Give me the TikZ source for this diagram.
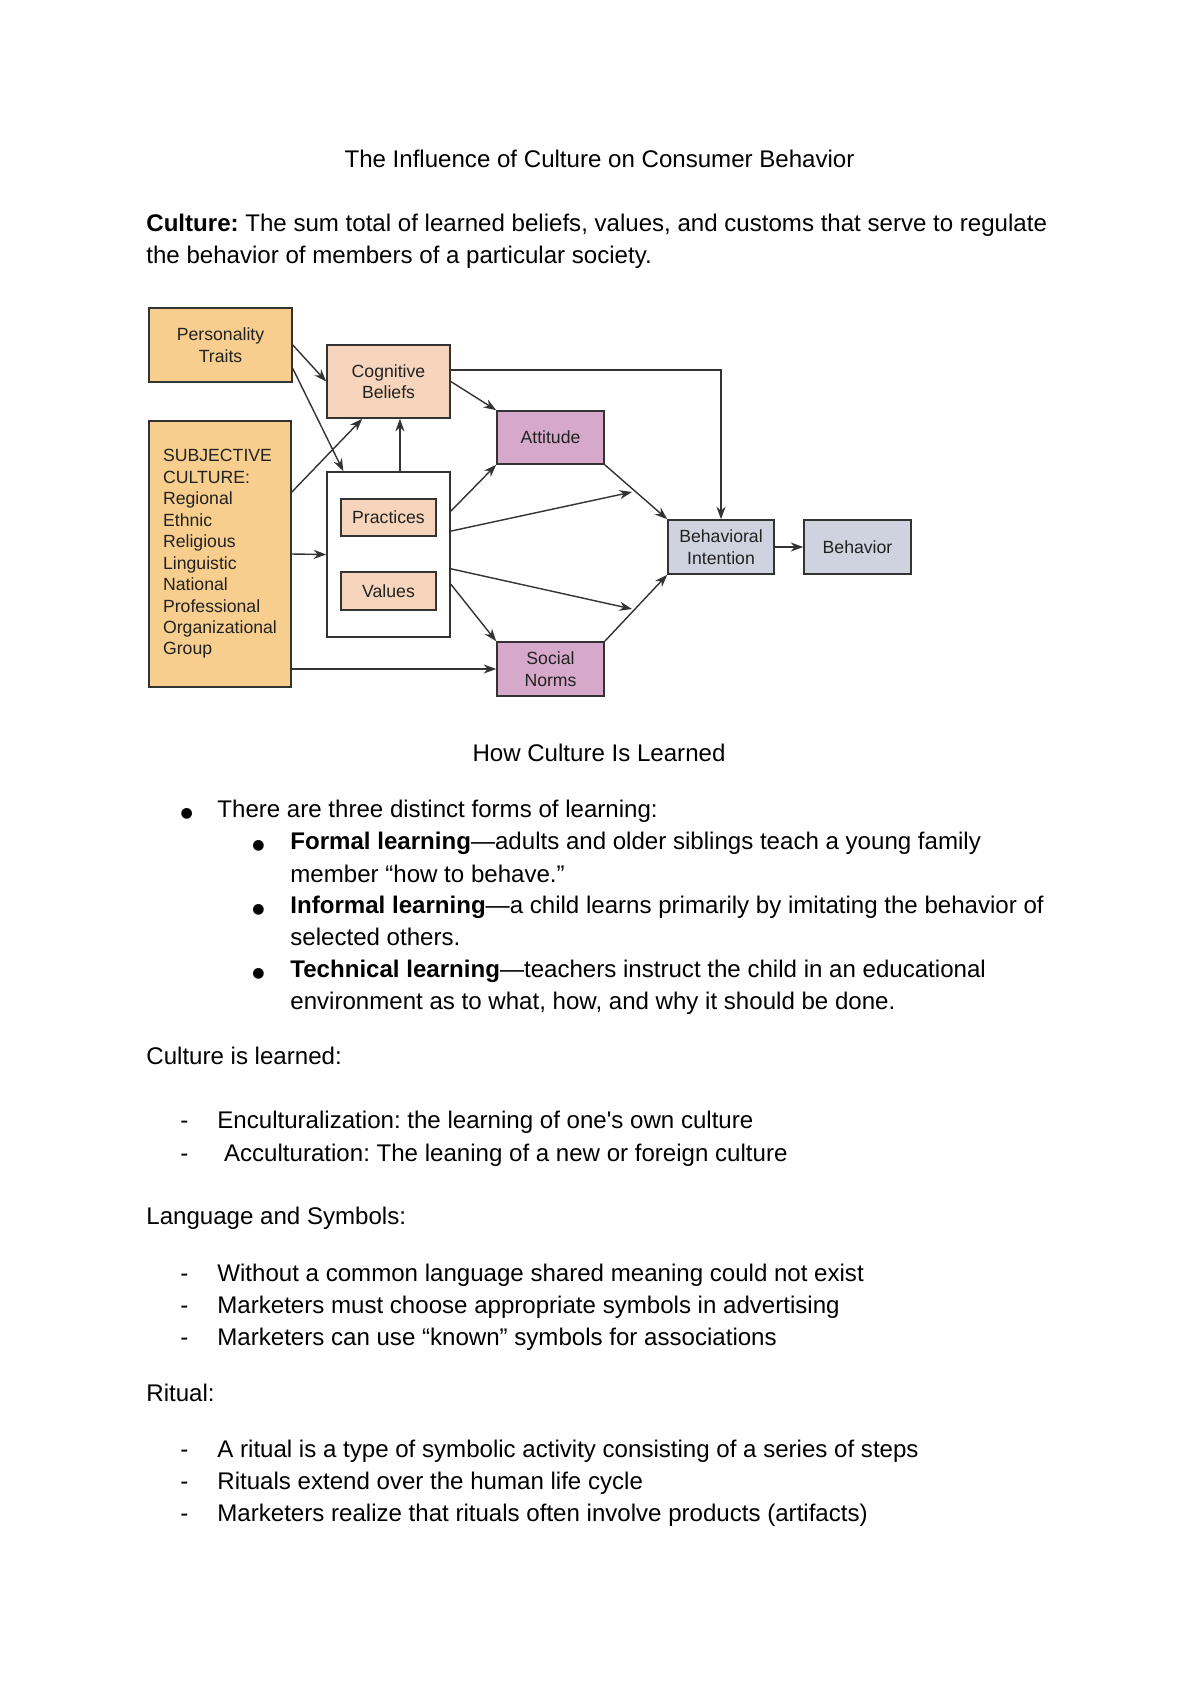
\documentclass[tikz,border=0pt]{standalone}
\usepackage{fontspec}
\setmainfont{Liberation Sans}
\newfontfamily\symfont{DejaVu Sans}
\usetikzlibrary{arrows.meta}
\frenchspacing

\definecolor{orangefill}{HTML}{F7CE8D}
\definecolor{peachfill}{HTML}{F7D5BC}
\definecolor{mauvefill}{HTML}{D6A9CB}
\definecolor{greyfill}{HTML}{CED3DF}
\definecolor{linegray}{HTML}{333333}
\definecolor{textgray}{HTML}{222222}

\newcommand{\txtfont}{\fontsize{12}{16.1}\selectfont}
\newcommand{\figfont}{\fontsize{8.8}{10.7}\selectfont}
\newcommand{\bul}[1]{\llap{{\symfont\fontsize{7}{7}\selectfont ●}\hspace{#1}}}
\newcommand{\itemdash}{\llap{-\hspace{5.1mm}}}

\tikzset{
  txt/.style={anchor=base west, inner sep=0pt, font=\txtfont, align=left},
  box/.style={draw=linegray, line width=0.8pt, font=\figfont, text=textgray, align=center, inner sep=0pt},
  culture/.style={box, fill=orangefill},
  belief/.style={box, fill=peachfill},
  social/.style={box, fill=mauvefill},
  intent/.style={box, fill=greyfill},
  arr/.style={-{Stealth[length=2.2mm,width=1.6mm]}, draw=linegray, line width=0.7pt}
}

\begin{document}
\begin{tikzpicture}[x=0.017517cm, y=-0.017517cm]
\fill[white] (0,0) rectangle (1200,1695);
\useasboundingbox (0,0) rectangle (1200,1695);

% heading and definition (base of a two-line node = its last line)
\node[txt, anchor=base] (title) at (599.5,167.5) {The Influence of Culture on Consumer Behavior};
\node[txt] (defn) at (146,263.5) {\textbf{Culture:} The sum total of learned beliefs, values, and customs that serve to regulate\\the behavior of members of a particular society.};

% diagram
\node[culture, minimum width=2.505cm, minimum height=1.296cm] (pers) at (220.5,345) {Personality\\Traits};
\node[culture, minimum width=2.487cm, minimum height=4.66cm, align=left] (subj) at (220,554) {SUBJECTIVE\\CULTURE:\\Regional\\Ethnic\\Religious\\Linguistic\\National\\Professional\\Organizational\\Group};
\node[belief, minimum width=2.155cm, minimum height=1.279cm] (cog) at (388.5,381.5) {Cognitive\\Beliefs};
\node[box, fill=white, minimum width=2.155cm, minimum height=2.89cm] (outer) at (388.5,554.5) {};
\node[belief, minimum width=1.664cm, minimum height=0.648cm] (prac) at (388.5,517.5) {Practices};
\node[belief, minimum width=1.664cm, minimum height=0.666cm] (vals) at (388.5,591) {Values};
\node[social, minimum width=1.874cm, minimum height=0.928cm] (att) at (550.5,437.5) {Attitude};
\node[social, minimum width=1.874cm, minimum height=0.946cm] (norms) at (550.5,669) {Social\\Norms};
\node[intent, minimum width=1.857cm, minimum height=0.946cm] (bint) at (721,547) {Behavioral\\Intention};
\node[intent, minimum width=1.874cm, minimum height=0.946cm] (behav) at (857.5,547) {Behavior};
\coordinate (tipa) at (632,492);
\coordinate (tipb) at (632,609);

\draw[arr] (pers.east) -- (cog.west);
\draw[arr] ([yshift=0.25cm]pers.south east) -- ([xshift=0.3cm]outer.north west);
\draw[arr] ([yshift=-1.26cm]subj.north east) -- ([xshift=-0.46cm]cog.south);
\draw[arr] (subj.east) -- (outer.west);
\draw[arr] (subj.east |- norms.west) -- (norms.west);
\draw[arr] ([xshift=0.2cm]outer.north) -- ([xshift=0.2cm]cog.south);
\draw[arr] (cog.east) -- (att.north west);
\draw[arr] ([yshift=0.2cm]cog.east) -| (bint.north);
\draw[arr] ([yshift=-0.7cm]outer.north east) -- (att.south west);
\draw[arr] ([yshift=0.41cm]outer.east) -- (tipa);
\draw[arr] ([yshift=-0.25cm]outer.east) -- (tipb);
\draw[arr] ([yshift=-0.52cm]outer.east) -- (norms.north west);
\draw[arr] (att.south east) -- (bint.north west);
\draw[arr] (norms.north east) -- (bint.south west);
\draw[arr] (bint.east) -- (behav.west);

% how culture is learned
\node[txt, anchor=base] (howtitle) at (599,761) {How Culture Is Learned};
\node[txt] (forms) at (217,817) {\bul{4.3mm}There are three distinct forms of learning:};
\node[txt] (formal) at (290,882) {\bul{4.5mm}\textbf{Formal learning}—adults and older siblings teach a young family\\member “how to behave.”};
\node[txt] (informal) at (290,945.5) {\bul{4.5mm}\textbf{Informal learning}—a child learns primarily by imitating the behavior of\\selected others.};
\node[txt] (technical) at (290,1009.5) {\bul{4.5mm}\textbf{Technical learning}—teachers instruct the child in an educational\\environment as to what, how, and why it should be done.};

\node[txt] (learned) at (146,1064.5) {Culture is learned:};
\node[txt] (encult) at (217,1128.5) {\itemdash Enculturalization: the learning of one\textquotesingle s own culture};
\node[txt] (accult) at (217,1161) {\itemdash\ Acculturation: The leaning of a new or foreign culture};

\node[txt] (langsym) at (146,1224.5) {Language and Symbols:};
\node[txt] (lang1) at (217,1281) {\itemdash Without a common language shared meaning could not exist};
\node[txt] (lang2) at (217,1313.5) {\itemdash Marketers must choose appropriate symbols in advertising};
\node[txt] (lang3) at (217,1345.5) {\itemdash Marketers can use “known” symbols for associations};

\node[txt] (ritual) at (146,1401) {Ritual:};
\node[txt] (rit1) at (217,1457.5) {\itemdash A ritual is a type of symbolic activity consisting of a series of steps};
\node[txt] (rit2) at (217,1489.5) {\itemdash Rituals extend over the human life cycle};
\node[txt] (rit3) at (217,1521) {\itemdash Marketers realize that rituals often involve products (artifacts)};
\end{tikzpicture}
\end{document}
